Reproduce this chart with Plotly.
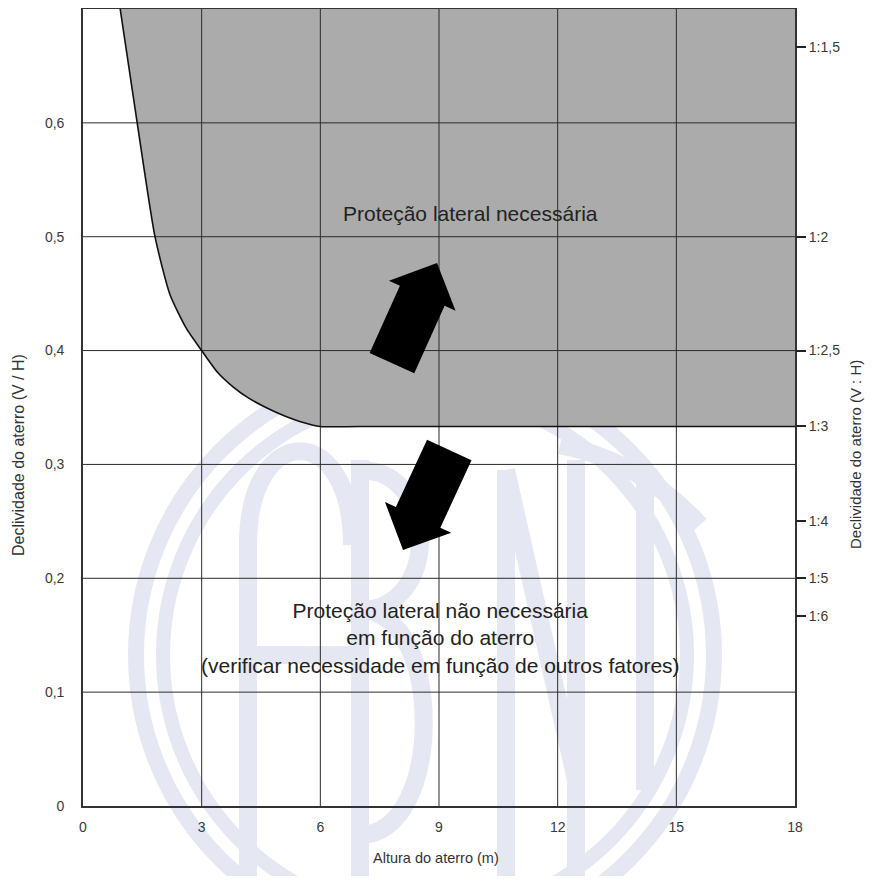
import numpy as np
import plotly.graph_objects as go

# ---------------- data ----------------
x_ticks = [0, 3, 6, 9, 12, 15, 18]
y_ticks = [0, 0.1, 0.2, 0.3, 0.4, 0.5, 0.6]
y_tick_labels = ["0", "0,1", "0,2", "0,3", "0,4", "0,5", "0,6"]
ratio_h = [1.5, 2, 2.5, 3, 4, 5, 6]
ratio_labels = ["1:1,5", "1:2", "1:2,5", "1:3", "1:4", "1:5", "1:6"]
ratio_vals = [1 / h for h in ratio_h]

# boundary of the "protection required" zone
curve_x = [0.94, 1.37, 1.82, 2.2, 2.62, 3.0, 3.4, 3.8, 4.2, 4.65, 5.1, 5.5, 6.0, 7.0, 17.0, 18]
curve_y = [0.70, 0.60, 0.50, 0.449, 0.419, 0.400, 0.381, 0.368, 0.358, 0.3495, 0.3425, 0.3375,
           0.3333, 0.3333, 0.3333, 0.3333]

X_RANGE = [0, 18]
Y_RANGE = [0, 0.7]

# ---------------- layout geometry (page pixel coordinates) ----------------
OFF = 8                     # default body margin of the html page
W, H = 873 - 2 * OFF, 884 - 2 * OFF
PX0, PX1 = 83, 795          # plot area left/right on the page
PY0, PY1 = 806, 9           # plot area bottom/top on the page
ML, MR = PX0 - OFF, (W + OFF) - PX1
MT, MB = PY1 - OFF, (H + OFF) - PY0


def px2x(px):
    return X_RANGE[0] + (px - PX0) / (PX1 - PX0) * (X_RANGE[1] - X_RANGE[0])


def py2y(py):
    return Y_RANGE[0] + (PY0 - py) / (PY0 - PY1) * (Y_RANGE[1] - Y_RANGE[0])


def x2px(x):
    return PX0 + (x - X_RANGE[0]) / (X_RANGE[1] - X_RANGE[0]) * (PX1 - PX0)


def y2py(y):
    return PY0 - (y - Y_RANGE[0]) / (Y_RANGE[1] - Y_RANGE[0]) * (PY0 - PY1)


def px2paper(px, py):
    return (px - PX0) / (PX1 - PX0), (PY0 - py) / (PY0 - PY1)


fig = go.Figure()

# gray region: between the top of the chart and the boundary curve
fig.add_trace(go.Scatter(
    x=[curve_x[0], X_RANGE[1]], y=[Y_RANGE[1], Y_RANGE[1]],
    mode="lines", line=dict(width=0, color="rgba(0,0,0,0)"),
    hoverinfo="skip", showlegend=False))
fig.add_trace(go.Scatter(
    x=curve_x, y=curve_y, fill="tonexty", fillcolor="#ababab",
    mode="lines", line=dict(width=0, color="rgba(0,0,0,0)", shape="spline", smoothing=0.6),
    hoverinfo="skip", showlegend=False))

# grid lines drawn above the fill
gx, gy = [], []
for xv in x_ticks[1:-1]:
    gx += [xv, xv, None]
    gy += [Y_RANGE[0], Y_RANGE[1], None]
for yv in y_ticks[1:]:
    gx += [X_RANGE[0], X_RANGE[1], None]
    gy += [yv, yv, None]
fig.add_trace(go.Scatter(x=gx, y=gy, mode="lines",
                         line=dict(color="#2b2b2b", width=1),
                         hoverinfo="skip", showlegend=False))

# boundary curve
fig.add_trace(go.Scatter(x=curve_x, y=curve_y, mode="lines",
                         line=dict(color="#111111", width=1.6, shape="spline", smoothing=0.6),
                         hoverinfo="skip", showlegend=False))

# invisible trace to activate the right axis
fig.add_trace(go.Scatter(x=[X_RANGE[0]], y=[Y_RANGE[0]], yaxis="y2", mode="markers",
                         marker=dict(opacity=0), hoverinfo="skip", showlegend=False))

shapes = []


# block arrows
def arrow_path(tail, tip, shaft_w=49, head_w=73, head_len=36):
    t = np.array([x2px(tail[0]), y2py(tail[1])])
    p = np.array([x2px(tip[0]), y2py(tip[1])])
    d = (p - t) / np.linalg.norm(p - t)
    n = np.array([-d[1], d[0]])
    hb = p - d * head_len
    pts = [t + n * shaft_w / 2, hb + n * shaft_w / 2, hb + n * head_w / 2, p,
           hb - n * head_w / 2, hb - n * shaft_w / 2, t - n * shaft_w / 2]
    s = "M " + " L ".join(f"{px2x(q[0]):.4f},{py2y(q[1]):.5f}" for q in pts) + " Z"
    return s


arrows = [((7.81, 0.389), (8.95, 0.477)), ((9.26, 0.3127), (8.09, 0.2248))]
for tail, tip in arrows:
    shapes.append(dict(type="path", xref="x", yref="y", path=arrow_path(tail, tip),
                       fillcolor="black", line=dict(width=0), layer="above"))

# faint watermark (ABNT logo) in the background
WM = "#e5e7f3"


def circ(cx, cy, r, w):
    x0, y0 = px2paper(cx - r, cy + r)
    x1, y1 = px2paper(cx + r, cy - r)
    return dict(type="circle", xref="paper", yref="paper", x0=x0, y0=y0, x1=x1, y1=y1,
                line=dict(color=WM, width=w), layer="below")


shapes.append(circ(425, 655, 289, 16))
shapes.append(circ(425, 655, 262, 14))


def ppath(cmds):
    out = []
    for c in cmds:
        if isinstance(c, str):
            out.append(c)
        else:
            a, b = px2paper(*c)
            out.append(f"{a:.4f},{b:.4f}")
    return " ".join(out)


letter_paths = [
    ["M", (248, 884), "L", (248, 545), "C", (248, 420), (352, 420), (352, 545)],
    ["M", (248, 655), "L", (352, 655)],
    ["M", (360, 460), "L", (360, 884)],
    ["M", (360, 470), "C", (440, 470), (440, 610), (360, 610)],
    ["M", (360, 610), "C", (445, 610), (445, 835), (360, 835)],
    ["M", (506, 470), "L", (506, 884)],
    ["M", (506, 470), "L", (576, 780)],
    ["M", (576, 460), "L", (576, 884)],
    ["M", (560, 445), "Q", (640, 460), (700, 525)],
    ["M", (645, 480), "L", (645, 790)],
]
for lp in letter_paths:
    shapes.append(dict(type="path", xref="paper", yref="paper", path=ppath(lp),
                       line=dict(color=WM, width=18), layer="below"))

FONT = "Liberation Sans, Arial, sans-serif"
TXT = "#222222"
annotations = [
    dict(x=px2x(470), y=py2y(213), xref="x", yref="y", text="Proteção lateral necessária",
         xanchor="center", yanchor="middle",
         showarrow=False, font=dict(family=FONT, size=21, color=TXT)),
    dict(x=px2x(440), y=py2y(638), xref="x", yref="y",
         text="Proteção lateral não necessária<br>em função do aterro<br>(verificar necessidade em função de outros fatores)",
         xanchor="center", yanchor="middle",
         showarrow=False, align="center", font=dict(family=FONT, size=21, color=TXT)),
    dict(x=px2paper(436, 0)[0], y=px2paper(0, 858)[1], xref="paper", yref="paper",
         xanchor="center", yanchor="middle",
         text="Altura do aterro (m)", showarrow=False,
         font=dict(family=FONT, size=14.5, color="#333")),
    dict(x=px2paper(19, 0)[0], y=px2paper(0, 455)[1], xref="paper", yref="paper",
         xanchor="center", yanchor="middle",
         text="Declividade do aterro (V / H)", showarrow=False, textangle=-90,
         font=dict(family=FONT, size=16, color="#333")),
    dict(x=px2paper(856, 0)[0], y=px2paper(0, 455)[1], xref="paper", yref="paper",
         xanchor="center", yanchor="middle",
         text="Declividade do aterro (V : H)", showarrow=False, textangle=-90,
         font=dict(family=FONT, size=15, color="#333")),
]

tickfont = dict(family=FONT, size=14, color="#3a3a3a")
fig.update_layout(
    width=W, height=H,
    margin=dict(l=ML, r=MR, t=MT, b=MB, autoexpand=False),
    paper_bgcolor="white", plot_bgcolor="rgba(0,0,0,0)",
    showlegend=False,
    shapes=shapes, annotations=annotations,
    xaxis=dict(range=X_RANGE, tickvals=x_ticks, ticktext=[str(v) for v in x_ticks],
               showgrid=False, zeroline=False, showline=True, mirror=True,
               linecolor="#333", linewidth=1.6, ticks="outside", ticklen=7,
               tickcolor="rgba(0,0,0,0)", tickfont=tickfont),
    yaxis=dict(range=Y_RANGE, tickvals=y_ticks, ticktext=y_tick_labels,
               showgrid=False, zeroline=False, showline=True, mirror=True,
               linecolor="#333", linewidth=1.6, ticks="outside", ticklen=14,
               tickcolor="rgba(0,0,0,0)", tickfont=tickfont),
    yaxis2=dict(range=Y_RANGE, overlaying="y", side="right", tickvals=ratio_vals,
                ticktext=ratio_labels, showgrid=False, zeroline=False, showline=False,
                ticks="outside", ticklen=10, tickwidth=2, tickcolor="#222",
                tickfont=tickfont),
)

fig.write_html("out.html")
